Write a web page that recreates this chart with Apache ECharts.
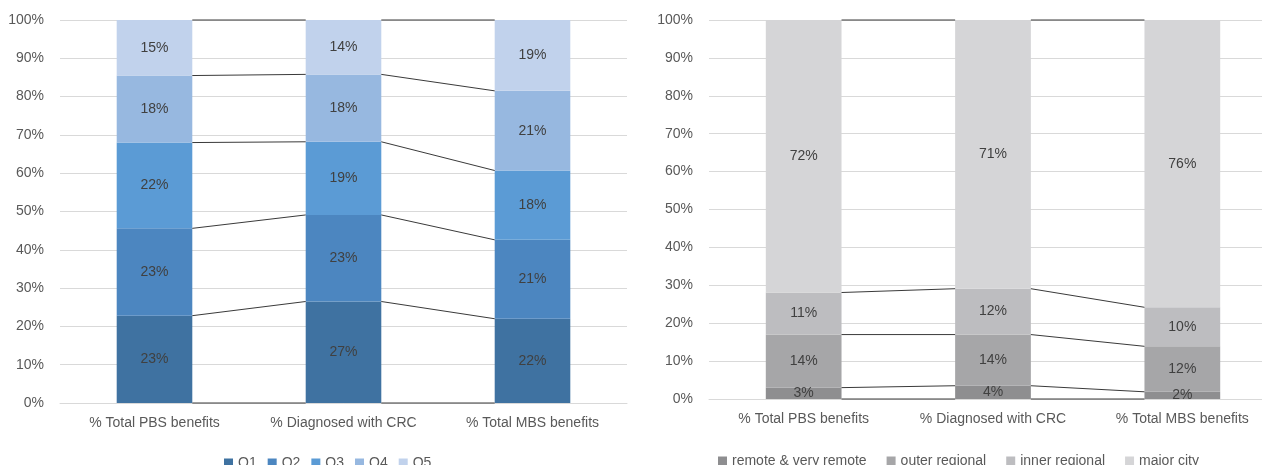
<!DOCTYPE html>
<html><head><meta charset="utf-8">
<script src="https://cdn.jsdelivr.net/npm/echarts@6/dist/echarts.min.js"></script>
<style>html,body{margin:0;padding:0;background:#fff;overflow:hidden}#c{width:1290px;height:465px}</style>
</head><body><div id="c"></div>
<script>
const categories = ['% Total PBS benefits', '% Diagnosed with CRC', '% Total MBS benefits'];

const quintileNames = ['Q1', 'Q2', 'Q3', 'Q4', 'Q5'];
const q1 = [22.8, 26.5, 22.0];
const q2 = [22.8, 22.6, 20.6];
const q3 = [22.4, 19.1, 18.1];
const q4 = [17.5, 17.6, 20.8];
const q5 = [14.5, 14.2, 18.5];

const regionNames = ['remote & very remote', 'outer regional', 'inner regional', 'major city'];
const remote = [3.0, 3.5, 1.9];
const outerRegional = [14.0, 13.5, 12.0];
const innerRegional = [11.1, 12.1, 10.3];
const majorCity = [71.9, 70.9, 75.8];

const quintileColors = ['#3F72A1', '#4C86C0', '#5B9BD5', '#97B8E0', '#C1D2EC'];
const regionColors = ['#8E8E90', '#A6A6A8', '#BDBDC0', '#D5D5D7'];

const FONT = 'Liberation Sans';

function cumLevels(arrs) {
  const levels = [categories.map(() => 0)];
  arrs.forEach(s => {
    const prev = levels[levels.length - 1];
    levels.push(prev.map((v, i) => v + s[i]));
  });
  return levels;
}
function connectorData(levels) {
  const out = [];
  levels.forEach(lv => {
    for (let i = 0; i < categories.length - 1; i++) out.push([i, Math.min(lv[i], 100), Math.min(lv[i + 1], 100)]);
  });
  return out;
}
function renderConnector(params, api) {
  const i = api.value(0);
  const a = api.coord([i, api.value(1)]);
  const b = api.coord([i + 1, api.value(2)]);
  const half = api.size([1, 0])[0] * 0.2;
  return {
    type: 'line',
    shape: { x1: a[0] + half, y1: a[1], x2: b[0] - half, y2: b[1] },
    style: { stroke: '#3A3A3A', lineWidth: 1 }
  };
}

function barSeries(name, data, color, idx, stack) {
  return {
    name, type: 'bar', stack, data,
    xAxisIndex: idx, yAxisIndex: idx,
    barWidth: '40%',
    itemStyle: { color },
    label: {
      show: true, position: 'inside', color: '#404040',
      fontFamily: FONT, fontSize: 14,
      formatter: p => Math.round(p.value) + '%'
    },
    emphasis: { disabled: true },
    animation: false
  };
}

const qArrs = [q1, q2, q3, q4, q5];
const rArrs = [remote, outerRegional, innerRegional, majorCity];

const series = [];
qArrs.forEach((d, k) => series.push(barSeries(quintileNames[k], d, quintileColors[k], 0, 'q')));
rArrs.forEach((d, k) => series.push(barSeries(regionNames[k], d, regionColors[k], 1, 'r')));
series.push({
  type: 'custom', xAxisIndex: 0, yAxisIndex: 0, renderItem: renderConnector,
  data: connectorData(cumLevels(qArrs)), encode: { x: 0, y: 1 }, z: 5, silent: true, animation: false
});
series.push({
  type: 'custom', xAxisIndex: 1, yAxisIndex: 1, renderItem: renderConnector,
  data: connectorData(cumLevels(rArrs)), encode: { x: 0, y: 1 }, z: 5, silent: true, animation: false
});

function xAxis(gi) {
  return {
    type: 'category', gridIndex: gi, data: categories,
    axisLine: { show: true, lineStyle: { color: '#D9D9D9' } },
    axisTick: { show: false },
    axisLabel: { color: '#595959', fontFamily: FONT, fontSize: 14, margin: 13, interval: 0 }
  };
}
function yAxis(gi) {
  return {
    type: 'value', gridIndex: gi, min: 0, max: 100, interval: 10,
    axisLine: { show: false }, axisTick: { show: false },
    splitLine: { lineStyle: { color: '#D9D9D9' } },
    axisLabel: { color: '#595959', fontFamily: FONT, fontSize: 14, margin: 16, formatter: '{value}%' }
  };
}

const chart = echarts.init(document.getElementById('c'), null, { renderer: 'canvas' });
chart.setOption({
  animation: false,
  backgroundColor: '#ffffff',
  grid: [
    { left: 60, width: 567, top: 20, bottom: 62 },
    { left: 709, width: 568, top: 20, bottom: 66 }
  ],
  xAxis: [xAxis(0), xAxis(1)],
  yAxis: [yAxis(0), yAxis(1)],
  legend: [
    {
      data: quintileNames, left: 219, top: 451, icon: 'rect', itemWidth: 9, itemHeight: 9,
      itemGap: 11, textStyle: { color: '#595959', fontFamily: FONT, fontSize: 14 }, selectedMode: false
    },
    {
      data: regionNames, left: 713, top: 449, icon: 'rect', itemWidth: 9, itemHeight: 9,
      itemGap: 20, textStyle: { color: '#595959', fontFamily: FONT, fontSize: 14 }, selectedMode: false
    }
  ],
  series
});
</script>
</body></html>
